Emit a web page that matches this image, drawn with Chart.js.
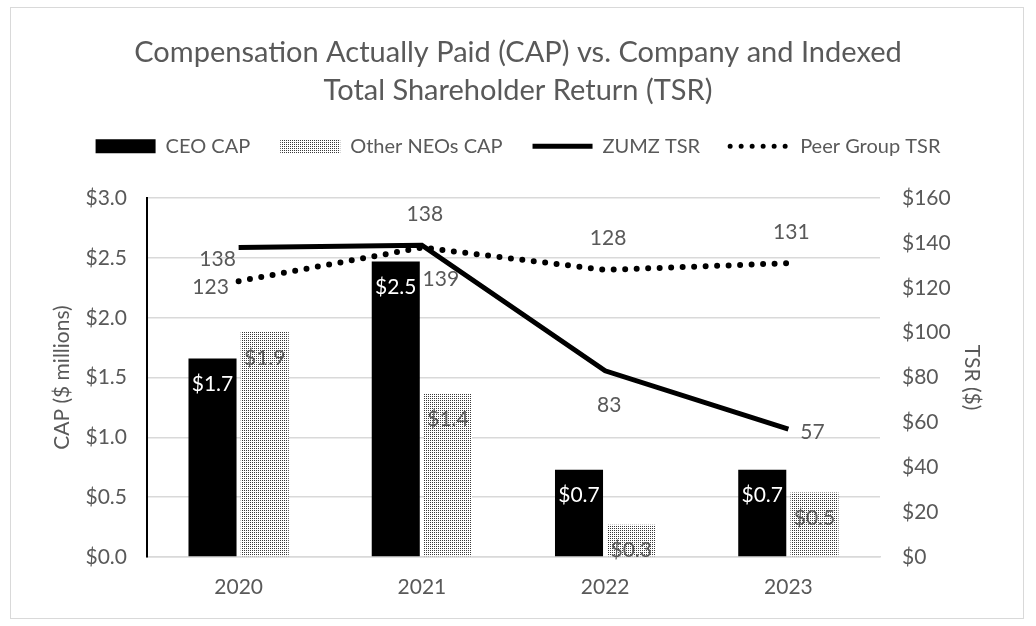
<!DOCTYPE html>
<html>
<head>
<meta charset="utf-8">
<script src="https://cdn.jsdelivr.net/npm/chart.js@4/dist/chart.umd.min.js"></script>
<style>
    body { margin: 0; background: #fff; }
    #frame {
        position: absolute; left: 10px; top: 7px; width: 1012px; height: 610px;
        border: 1.5px solid #d9d9d9;
    }
    #chart { position: absolute; left: 0; top: 0; }
</style>
</head>
<body>
<div id="frame"></div>
<canvas id="chart" width="1036" height="626"></canvas>
<script>
const years = ['2020', '2021', '2022', '2023'];
const ceoCap = [1.66, 2.47, 0.73, 0.73];
const otherNeoCap = [1.88, 1.37, 0.27, 0.54];
const zumzTsr = [138, 139, 83, 57];
const peerTsr = [123, 138, 128, 131];

const textColor = '#595959';
const gridColor = '#d9d9d9';
const fontFamily = 'Lato, "Open Sans", sans-serif';

// Fine stipple used by the "Other NEOs" bars
function makeStipple() {
    const c = document.createElement('canvas');
    c.width = 4; c.height = 4;
    const g = c.getContext('2d');
    g.fillStyle = '#ffffff';
    g.fillRect(0, 0, 4, 4);
    g.fillStyle = '#3a3a3a';
    g.fillRect(0, 0, 1, 1);
    g.fillRect(2, 2, 1, 1);
    g.fillRect(2, 0, 1, 1);
    g.fillRect(0, 2, 1, 1);
    return g.createPattern(c, 'repeat');
}
const stipple = makeStipple();

// Hand placed label offsets for the TSR lines (relative to each point)
const zumzLabelOffsets = [[-21, 12], [19, 34], [4, 34], [24, 3]];
const peerLabelOffsets = [[-28, 6], [3, -33], [3, -32], [3, -31]];

const valueLabels = {
    id: 'valueLabels',
    afterDatasetsDraw(chart) {
        const ctx = chart.ctx;
        ctx.save();
        ctx.font = `21px ${fontFamily}`;
        ctx.textAlign = 'center';
        ctx.textBaseline = 'middle';
        chart.data.datasets.forEach((ds, i) => {
            const meta = chart.getDatasetMeta(i);
            meta.data.forEach((el, j) => {
                const v = ds.data[j];
                if (ds.type === 'bar') {
                    ctx.fillStyle = ds.labelColor;
                    ctx.fillText('$' + v.toFixed(1), el.x, el.y + 26);
                } else {
                    const off = ds.labelOffsets[j];
                    ctx.fillStyle = textColor;
                    ctx.fillText(String(v), el.x + off[0], el.y + off[1]);
                }
            });
        });
        ctx.restore();
    }
};

// Leave more room between the legend and the plot
const legendSpacer = {
    id: 'legendSpacer',
    beforeInit(chart) {
        const origFit = chart.legend.fit;
        chart.legend.fit = function () {
            origFit.bind(chart.legend)();
            this.height += 32;
        };
    }
};

new Chart(document.getElementById('chart'), {
    data: {
        labels: years,
        datasets: [
            {
                type: 'bar',
                label: 'CEO CAP',
                data: ceoCap,
                backgroundColor: '#000000',
                labelColor: '#ffffff',
                yAxisID: 'y',
                order: 2,
                barPercentage: 0.92,
                categoryPercentage: 0.57
            },
            {
                type: 'bar',
                label: 'Other NEOs CAP',
                data: otherNeoCap,
                backgroundColor: stipple,
                labelColor: textColor,
                yAxisID: 'y',
                order: 2,
                barPercentage: 0.92,
                categoryPercentage: 0.57
            },
            {
                type: 'line',
                label: 'ZUMZ TSR',
                data: zumzTsr,
                borderColor: '#000000',
                borderWidth: 5,
                pointRadius: 0,
                tension: 0,
                yAxisID: 'y1',
                order: 1,
                labelOffsets: zumzLabelOffsets
            },
            {
                type: 'line',
                label: 'Peer Group TSR',
                data: peerTsr,
                borderColor: '#000000',
                borderWidth: 6,
                borderDash: [0, 11.5],
                borderCapStyle: 'round',
                pointRadius: 0,
                tension: 0,
                yAxisID: 'y1',
                order: 1,
                labelOffsets: peerLabelOffsets
            }
        ]
    },
    options: {
        responsive: false,
        animation: false,
        layout: { padding: { top: 11, left: 0, right: 0, bottom: 0 } },
        scales: {
            x: {
                grid: { display: false },
                border: { color: gridColor, width: 1.5 },
                ticks: { color: textColor, font: { size: 21, family: fontFamily }, padding: 10 },
                afterFit(scale) { scale.height = 69; }
            },
            y: {
                position: 'left',
                min: 0,
                max: 3,
                ticks: {
                    stepSize: 0.5,
                    color: textColor,
                    font: { size: 21, family: fontFamily },
                    padding: 20,
                    callback: v => '$' + v.toFixed(1)
                },
                grid: { color: gridColor, lineWidth: 1.5, drawTicks: false },
                border: { color: '#000000', width: 2 },
                title: {
                    display: true,
                    text: 'CAP ($ millions)',
                    color: textColor,
                    font: { size: 21, family: fontFamily },
                    padding: { top: 50, bottom: 0 }
                },
                afterFit(scale) { scale.width = 147; }
            },
            y1: {
                position: 'right',
                min: 0,
                max: 160,
                ticks: {
                    stepSize: 20,
                    color: textColor,
                    font: { size: 21, family: fontFamily },
                    padding: 22,
                    callback: v => '$' + v
                },
                grid: { display: false, drawTicks: false },
                border: { display: false },
                title: {
                    display: true,
                    text: 'TSR ($)',
                    color: textColor,
                    font: { size: 21, family: fontFamily },
                    padding: { top: 52, bottom: 0 }
                },
                afterFit(scale) { scale.width = 156; }
            }
        },
        plugins: {
            title: {
                display: true,
                text: ['Compensation Actually Paid (CAP) vs. Company and Indexed', 'Total Shareholder Return (TSR)'],
                color: textColor,
                font: { size: 29, family: fontFamily, weight: 'normal', lineHeight: 1.33 },
                padding: { top: 22, bottom: -4 }
            },
            legend: {
                position: 'top',
                labels: {
                    color: textColor,
                    font: { size: 20, family: fontFamily },
                    usePointStyle: true,
                    pointStyleWidth: 60,
                    boxHeight: 14,
                    padding: 30,
                    generateLabels(chart) {
                        return chart.data.datasets.map((ds, i) => ({
                            text: ds.label,
                            datasetIndex: i,
                            fontColor: textColor,
                            fillStyle: ds.type === 'bar' ? ds.backgroundColor : 'transparent',
                            strokeStyle: '#000000',
                            lineWidth: ds.type === 'bar' ? 0 : 5,
                            lineDash: i === 3 ? [0, 11] : [],
                            lineCap: i === 3 ? 'round' : 'butt',
                            pointStyle: ds.type === 'bar' ? 'rect' : 'line',
                            hidden: false
                        }));
                    }
                }
            },
            tooltip: { enabled: false }
        }
    },
    plugins: [valueLabels, legendSpacer]
});
</script>
</body>
</html>
